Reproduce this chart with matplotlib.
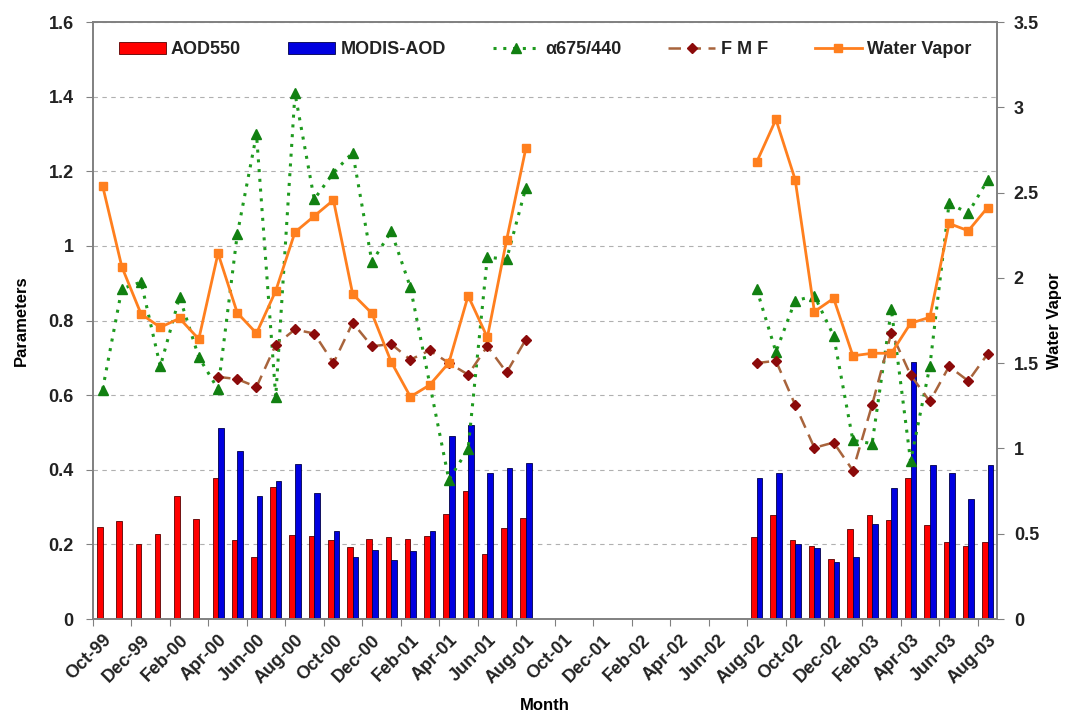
import numpy as np
import matplotlib
matplotlib.use("Agg")
import matplotlib.pyplot as plt
from matplotlib.ticker import FuncFormatter

plt.rcParams["font.family"] = ["Liberation Sans", "DejaVu Sans"]
plt.rcParams["font.weight"] = "bold"

nan = np.nan

months = ["Oct-99", "Nov-99", "Dec-99", "Jan-00", "Feb-00", "Mar-00", "Apr-00", "May-00",
          "Jun-00", "Jul-00", "Aug-00", "Sep-00", "Oct-00", "Nov-00", "Dec-00", "Jan-01",
          "Feb-01", "Mar-01", "Apr-01", "May-01", "Jun-01", "Jul-01", "Aug-01", "Sep-01",
          "Oct-01", "Nov-01", "Dec-01", "Jan-02", "Feb-02", "Mar-02", "Apr-02", "May-02",
          "Jun-02", "Jul-02", "Aug-02", "Sep-02", "Oct-02", "Nov-02", "Dec-02", "Jan-03",
          "Feb-03", "Mar-03", "Apr-03", "May-03", "Jun-03", "Jul-03", "Aug-03"]

aod550 = [0.246, 0.262, 0.200, 0.229, 0.330, 0.269, 0.379, 0.211, 0.165, 0.353, 0.226, 0.222,
          0.211, 0.194, 0.215, 0.219, 0.215, 0.222, 0.282, 0.344, 0.175, 0.243, 0.271,
          nan, nan, nan, nan, nan, nan, nan, nan, nan, nan, nan,
          0.219, 0.280, 0.211, 0.196, 0.160, 0.240, 0.280, 0.265, 0.378, 0.251, 0.207, 0.196, 0.207]

modis_aod = [nan, nan, nan, nan, nan, nan,
             0.511, 0.450, 0.330, 0.369, 0.416, 0.337, 0.237, 0.165, 0.186, 0.157, 0.183, 0.237,
             0.490, 0.521, 0.390, 0.405, 0.419,
             nan, nan, nan, nan, nan, nan, nan, nan, nan, nan, nan,
             0.378, 0.391, 0.200, 0.189, 0.153, 0.167, 0.254, 0.352, 0.690, 0.414, 0.391, 0.322, 0.414]

alpha = [0.615, 0.885, 0.903, 0.677, 0.863, 0.702, 0.616, 1.031, 1.299, 0.595, 1.409, 1.125,
         1.196, 1.250, 0.957, 1.039, 0.889, nan, 0.373, 0.456, 0.970, 0.964, 1.156,
         nan, nan, nan, nan, nan, nan, nan, nan, nan, nan, nan,
         0.884, 0.716, 0.853, 0.866, 0.759, 0.479, 0.470, 0.830, 0.423, 0.677, 1.114, 1.088, 1.176]

fmf = [nan, nan, nan, nan, nan, nan,
       0.649, 0.643, 0.622, 0.735, 0.776, 0.765, 0.686, 0.794, 0.731, 0.737, 0.695, 0.720,
       0.686, 0.655, 0.731, 0.661, 0.749,
       nan, nan, nan, nan, nan, nan, nan, nan, nan, nan, nan,
       0.686, 0.692, 0.574, 0.459, 0.473, 0.398, 0.574, 0.767, 0.654, 0.583, 0.677, 0.638, 0.710]

water_vapor = [2.540, 2.065, 1.788, 1.710, 1.763, 1.641, 2.144, 1.795, 1.675, 1.924, 2.268, 2.362,
               2.456, 1.905, 1.792, 1.508, 1.303, 1.372, 1.502, 1.895, 1.651, 2.222, 2.759,
               nan, nan, nan, nan, nan, nan, nan, nan, nan, nan, nan,
               2.679, 2.929, 2.576, 1.802, 1.880, 1.543, 1.558, 1.558, 1.734, 1.769, 2.319, 2.276, 2.412]

x = np.arange(len(months))


def seg_plot(axis, vals, **kw):
    # draw each continuous block separately; skip single missing points inside a block
    v = np.asarray(vals, dtype=float)
    ok = ~np.isnan(v)
    blocks = [(0, 23), (34, 47)]
    lines = []
    for a, b in blocks:
        m = ok[a:b]
        lines += axis.plot(x[a:b][m], v[a:b][m], **kw)
    return lines[0]


fig = plt.figure(figsize=(10.65, 7.24), dpi=100)
ax = fig.add_axes([0.0873, 0.145, 0.849, 0.8246])
ax2 = ax.twinx()

bw = 0.29
b1 = ax.bar(x - 0.14, aod550, bw, color="#ff0000", edgecolor="#5a0000", linewidth=0.6,
            label="AOD550", zorder=2)
b2 = ax.bar(x + 0.15, modis_aod, bw, color="#0000e0", edgecolor="#00004a", linewidth=0.6,
            label="MODIS-AOD", zorder=2)

l1 = seg_plot(ax, alpha, color="#1e9a1e", linestyle=(0, (1, 2.2)), linewidth=2.2,
              marker="^", markersize=6.5, markerfacecolor="#118011", markeredgecolor="#118011",
              label="α675/440", zorder=3)
l2 = seg_plot(ax, fmf, color="#a8643c", linestyle=(0, (5, 3)), linewidth=1.8,
              marker="D", markersize=5, markerfacecolor="#8b0a0a", markeredgecolor="#8b0a0a",
              label="F M F", zorder=3)
l3 = seg_plot(ax2, water_vapor, color="#ff7f1e", linestyle="-", linewidth=2,
              marker="s", markersize=6, markerfacecolor="#ff7f1e", markeredgecolor="#ff7f1e",
              label="Water Vapor", zorder=3)

ax.set_xlim(-0.5, len(months) - 0.5)
ax.set_ylim(0, 1.6)
ax2.set_ylim(0, 3.5)
ax.set_yticks(np.arange(0, 1.61, 0.2))
ax2.set_yticks(np.arange(0, 3.51, 0.5))
fmt = FuncFormatter(lambda v, p: f"{v:g}")
ax.yaxis.set_major_formatter(fmt)
ax2.yaxis.set_major_formatter(fmt)

ax.set_xticks(np.arange(-0.5, len(months), 2))
ax.set_xticklabels([])
ax.set_xticks(x[::2], minor=True)
ax.set_xticklabels(months[::2], minor=True, rotation=45, ha="right",
                   rotation_mode="anchor", fontsize=13, fontweight="bold", color="#222222")
ax.tick_params(axis="x", which="minor", length=0, pad=9)
ax.tick_params(axis="x", which="major", length=5, color="#808080")
ax.tick_params(axis="y", length=5, color="#808080", labelsize=13, pad=9)
ax2.tick_params(axis="y", length=5, color="#808080", labelsize=13, pad=7)
for t in ax.get_yticklabels() + ax2.get_yticklabels():
    t.set_fontweight("bold")
    t.set_color("#222222")

ax.yaxis.grid(True, linestyle=(0, (4, 4)), color="#b0b0b0", linewidth=0.8)
ax.set_axisbelow(True)
for a in (ax, ax2):
    for s in a.spines.values():
        s.set_color("#808080")
        s.set_linewidth(1.2)

ax.set_ylabel("Parameters", fontsize=12, fontweight="bold", labelpad=14)
ax2.set_ylabel("Water Vapor", fontsize=12, fontweight="bold", labelpad=6)
ax.set_xlabel("Month", fontsize=12, fontweight="bold", labelpad=8)

leg = ax2.legend([b1, b2, l1, l2, l3], ["AOD550", "MODIS-AOD", "α675/440", "F M F", "Water Vapor"],
                 loc="upper center", bbox_to_anchor=(0.5, 0.995), ncol=5, frameon=False,
                 fontsize=13, handlelength=2.6, handleheight=0.7, columnspacing=2.6,
                 handletextpad=0.3)
for t in leg.get_texts():
    t.set_fontweight("bold")
    t.set_color("#222222")

fig.savefig("out.png", dpi=100)
